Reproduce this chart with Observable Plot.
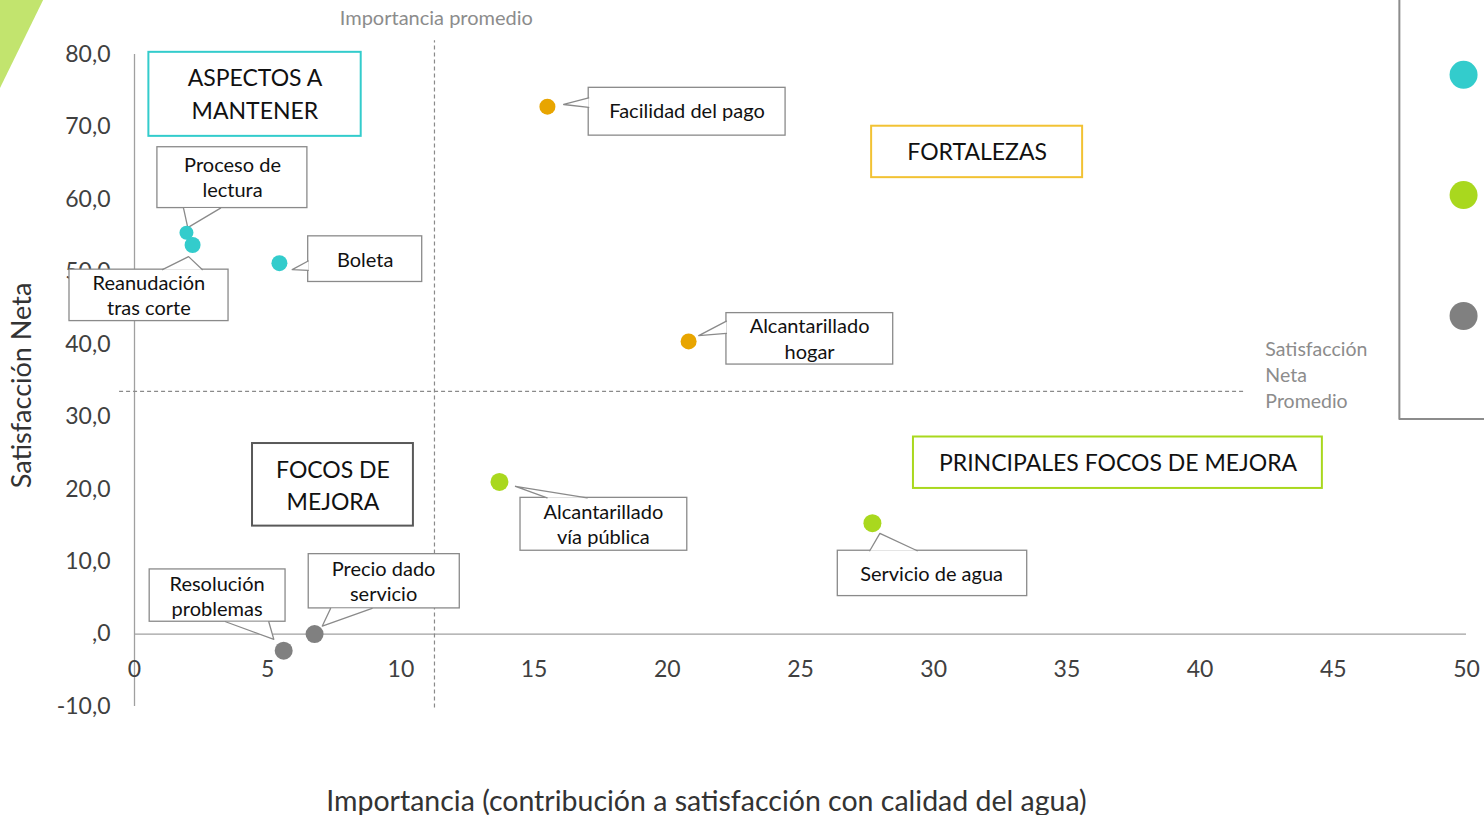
<!DOCTYPE html>
<html>
<head>
<meta charset="utf-8">
<script src="https://cdn.jsdelivr.net/npm/d3@7"></script>
<script src="https://cdn.jsdelivr.net/npm/@observablehq/plot@0.6"></script>
<style>
  html, body { margin: 0; padding: 0; background: #fff; }
  #chart svg { display: block; }
</style>
</head>
<body>
<div id="chart"></div>
<script>
// ---- Data ----
const atributos = ["Facilidad del pago", "Proceso de lectura", "Reanudación tras corte", "Boleta",
  "Alcantarillado hogar", "Alcantarillado vía pública", "Servicio de agua", "Resolución problemas", "Precio dado servicio"];
const importancia = [15.5, 1.95, 2.18, 5.44, 20.8, 13.7, 27.7, 5.6, 6.76];
const satisfaccion = [72.8, 55.4, 53.7, 51.2, 40.4, 21.0, 15.3, -2.3, 0.0];
const grupo = ["fortaleza", "mantener", "mantener", "mantener", "fortaleza", "principal", "principal", "foco", "foco"];
const radio = [8, 7, 8, 8, 8, 9, 9, 9, 9];

const grupos = ["mantener", "fortaleza", "principal", "foco"];
const coloresGrupo = ["#33CCCC", "#E8A500", "#A9D81E", "#808080"];

const importanciaPromedio = 11.26;
const satisfaccionPromedio = 33.5;

const xTicks = [0, 5, 10, 15, 20, 25, 30, 35, 40, 45, 50];
const yTicks = [-10, 0, 10, 20, 30, 40, 50, 60, 70, 80];

// Callout labels (box corners, text centre, tail: base1, tip, base2) in data units
const calloutTexto = ["Facilidad del pago", "Proceso de\nlectura", "Reanudación\ntras corte", "Boleta",
  "Alcantarillado\nhogar", "Alcantarillado\nvía pública", "Servicio de agua", "Resolución\nproblemas", "Precio dado\nservicio"];
const calloutX1 = [17.05, 0.86, -2.44, 6.52, 22.22, 14.49, 26.40, 0.57, 6.54];
const calloutX2 = [24.44, 6.49, 3.53, 10.80, 28.48, 20.75, 33.51, 5.67, 12.21];
const calloutY1 = [75.4, 67.2, 50.3, 54.9, 44.3, 18.8, 11.5, 8.92, 11.03];
const calloutY2 = [68.8, 58.8, 43.2, 48.6, 37.2, 11.5, 5.24, 1.70, 3.54];
const calloutTX = [20.74, 3.68, 0.54, 8.66, 25.34, 17.60, 29.92, 3.10, 9.35];
const calloutTY = [72.3, 63.2, 46.9, 51.8, 40.9, 15.3, 8.5, 5.35, 7.45];
const colaBase1X = [17.05, 1.84, 1.05, 6.52, 22.22, 15.49, 27.60, 3.42, 7.36];
const colaBase1Y = [74.0, 58.8, 50.3, 51.5, 43.2, 18.8, 11.5, 1.70, 3.54];
const colaPuntaX = [16.11, 2.00, 2.03, 5.92, 21.18, 14.30, 27.98, 5.23, 7.05];
const colaPuntaY = [73.1, 56.1, 52.1, 50.3, 41.2, 20.4, 13.9, -0.73, 1.10];
const colaBase2X = [17.05, 3.23, 2.55, 6.52, 22.22, 16.99, 29.38, 5.04, 8.92];
const colaBase2Y = [72.7, 58.8, 50.3, 50.2, 41.5, 18.8, 11.5, 1.70, 3.54];

// Quadrant labels
const cuadranteTexto = ["ASPECTOS A\nMANTENER", "FORTALEZAS", "FOCOS DE\nMEJORA", "PRINCIPALES FOCOS DE MEJORA"];
const cuadranteColor = ["#33CCCC", "#F2C233", "#595959", "#A9D81E"];
const cuadranteX1 = [0.54, 27.67, 4.43, 29.24];
const cuadranteX2 = [8.51, 35.59, 10.47, 44.59];
const cuadranteY1 = [80.3, 70.1, 26.3, 27.2];
const cuadranteY2 = [68.7, 63.0, 14.9, 20.1];
const cuadranteTX = [4.52, 31.63, 7.45, 36.92];
const cuadranteTY = [74.8, 66.8, 20.8, 23.9];

// Cut-off legend at the right edge
const leyendaColores = ["#33CCCC", "#A9D81E", "#808080"];
const leyendaX = [49.89, 49.89, 49.89];
const leyendaY = [77.2, 60.6, 43.9];
const leyendaMarcoX = [47.48, 47.48, 50.8];
const leyendaMarcoY = [90, 29.7, 29.7];

// Decorative corner triangle
const trianguloX = [-5.1, -3.42, -5.1];
const trianguloY = [87.6, 87.6, 75.0];

// ---- Build tables ----
const puntos = atributos.map((a, i) => ({a, x: importancia[i], y: satisfaccion[i], g: grupo[i], r: radio[i]}));
const callouts = calloutTexto.map((t, i) => ({t, x1: calloutX1[i], x2: calloutX2[i], y1: calloutY1[i], y2: calloutY2[i], tx: calloutTX[i], ty: calloutTY[i]}));
const colas = [];
calloutTexto.forEach((t, i) => {
  colas.push({k: i, x: colaBase1X[i], y: colaBase1Y[i]});
  colas.push({k: i, x: colaPuntaX[i], y: colaPuntaY[i]});
  colas.push({k: i, x: colaBase2X[i], y: colaBase2Y[i]});
});
const cuadrantes = cuadranteTexto.map((t, i) => ({t, c: cuadranteColor[i], x1: cuadranteX1[i], x2: cuadranteX2[i], y1: cuadranteY1[i], y2: cuadranteY2[i], tx: cuadranteTX[i], ty: cuadranteTY[i]}));
const leyenda = leyendaColores.map((c, i) => ({c, x: leyendaX[i], y: leyendaY[i]}));
const marco = leyendaMarcoX.map((x, i) => ({x, y: leyendaMarcoY[i]}));
const triangulo = trianguloX.map((x, i) => ({x, y: trianguloY[i]}));

const fmt = d => d === 0 ? ",0" : d.toFixed(1).replace(".", ",");
const FONT = "Lato, 'Open Sans', sans-serif";

const chart = Plot.plot({
  width: 1484,
  height: 815,
  marginLeft: 134,
  marginRight: 18,
  marginTop: 54,
  marginBottom: 109,
  style: {fontFamily: FONT, background: "#fff", overflow: "visible"},
  x: {domain: [0, 50], axis: null},
  y: {domain: [-10, 80], axis: null},
  color: {domain: grupos, range: coloresGrupo},
  r: {type: "identity"},
  marks: [
    Plot.line(triangulo, {x: "x", y: "y", fill: "#C2E46E", stroke: "none"}),
    // axes
    Plot.ruleX([0], {y1: -10, y2: 80, stroke: "#A0A0A0", strokeWidth: 1.3}),
    Plot.ruleY([0], {x1: 0, x2: 50, stroke: "#A0A0A0", strokeWidth: 1.3}),
    Plot.axisY(yTicks, {tickSize: 0, tickPadding: 24, tickFormat: fmt, fontSize: 23, fill: "#404040"}),
    Plot.text(xTicks, {x: d => d, y: () => 0, dy: 36, text: d => String(d), fontSize: 23, fill: "#404040"}),
    // average lines
    Plot.ruleX([importanciaPromedio], {y1: -10.2, y2: 81.9, stroke: "#8A8A8A", strokeDasharray: "4,3", strokeWidth: 1.2}),
    Plot.ruleY([satisfaccionPromedio], {x1: -0.56, x2: 41.7, stroke: "#8A8A8A", strokeDasharray: "4,3", strokeWidth: 1.2}),
    Plot.text(["Importancia promedio"], {x: () => 11.33, y: () => 85.0, fontSize: 20, fill: "#8C8C8C"}),
    Plot.text(["Satisfacción\nNeta\nPromedio"], {x: () => 42.45, y: () => 35.9, textAnchor: "start", lineHeight: 1.34, fontSize: 19.5, fill: "#8C8C8C"}),
    // quadrant boxes
    Plot.rect(cuadrantes, {x1: "x1", x2: "x2", y1: "y1", y2: "y2", fill: "white", stroke: "c", strokeWidth: 2}),
    Plot.text(cuadrantes, {x: "tx", y: "ty", text: "t", fontSize: 23, lineHeight: 1.4, fill: "#111"}),
    // callouts
    Plot.rect(callouts, {x1: "x1", x2: "x2", y1: "y1", y2: "y2", fill: "white", stroke: "#8A8A8A", strokeWidth: 1.3}),
    Plot.line(colas, {x: "x", y: "y", z: "k", fill: "white", stroke: "none"}),
    Plot.line(colas, {x: "x", y: "y", z: "k", stroke: "#8A8A8A", strokeWidth: 1.3, fill: "none"}),
    Plot.text(callouts, {x: "tx", y: "ty", text: "t", fontSize: 20, lineHeight: 1.27, fill: "#111"}),
    // points
    Plot.dot(puntos, {x: "x", y: "y", r: "r", fill: d => d.g, stroke: "none"}),
    // legend remnant
    Plot.line(marco, {x: "x", y: "y", stroke: "#8C8C8C", strokeWidth: 2}),
    Plot.dot(leyenda, {x: "x", y: "y", r: 14, fill: d => d.c, stroke: "none"}),
    // axis titles
    Plot.text(["Satisfacción Neta"], {frameAnchor: "left", dx: -112, dy: 5, rotate: -90, textAnchor: "middle", lineAnchor: "middle", fontSize: 27, fill: "#333"}),
    Plot.text(["Importancia (contribución a satisfacción con calidad del agua)"], {x: () => 21.47, frameAnchor: "bottom", lineAnchor: "middle", dy: 95, fontSize: 28.5, fill: "#333"})
  ]
});
document.getElementById("chart").appendChild(chart);
</script>
</body>
</html>
